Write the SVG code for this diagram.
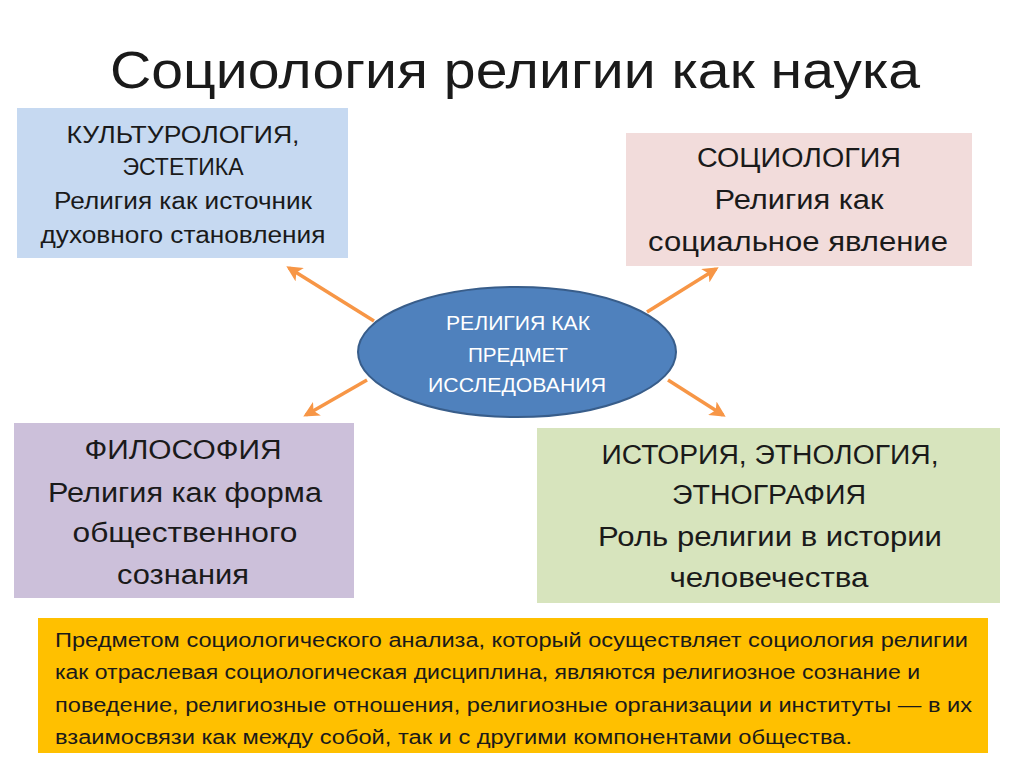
<svg xmlns="http://www.w3.org/2000/svg" width="1024" height="767" viewBox="0 0 1024 767">
<style>
text{font-family:"Liberation Sans","DejaVu Sans",sans-serif;fill:#1a1a1a}
.c{text-anchor:middle}
.t1{font-size:23px}
.t2{font-size:27px}
.e{font-size:20px;fill:#ffffff}
.y{font-size:20px}
.arr{stroke:#f79646;stroke-width:3.5;fill:none;marker-end:url(#ah)}
</style>
<defs>
<marker id="ah" viewBox="0 0 10 10" refX="8" refY="5" markerWidth="4.5" markerHeight="4.5" orient="auto" markerUnits="strokeWidth">
<path d="M0,0 L10,5 L0,10 L2.5,5 Z" fill="#f79646"/>
</marker>
</defs>
<rect width="1024" height="767" fill="#ffffff"/>
<text id="title" class="c" x="515" y="88" font-size="52" textLength="810" lengthAdjust="spacingAndGlyphs">Социология религии как наука</text>

<g id="connectors">
<line class="arr" x1="374" y1="321" x2="289" y2="268"/>
<line class="arr" x1="367" y1="380" x2="306" y2="415"/>
<line class="arr" x1="647" y1="312" x2="716" y2="269"/>
<line class="arr" x1="668" y1="380" x2="723" y2="415"/>
</g>

<g id="n-culture">
<rect x="17" y="108" width="331" height="150" fill="#c6d9f1"/>
<text class="c t1" x="183" y="143" textLength="233" lengthAdjust="spacingAndGlyphs">КУЛЬТУРОЛОГИЯ,</text>
<text class="c t1" x="183" y="175" textLength="121" lengthAdjust="spacingAndGlyphs">ЭСТЕТИКА</text>
<text class="c t1" x="183" y="209" textLength="258" lengthAdjust="spacingAndGlyphs">Религия как источник</text>
<text class="c t1" x="183" y="243" textLength="285" lengthAdjust="spacingAndGlyphs">духовного становления</text>
</g>

<g id="n-sociology">
<rect x="626" y="133" width="346" height="133" fill="#f2dcdb"/>
<text class="c t2" x="799" y="167" textLength="204" lengthAdjust="spacingAndGlyphs">СОЦИОЛОГИЯ</text>
<text class="c t2" x="799" y="209" textLength="169" lengthAdjust="spacingAndGlyphs">Религия как</text>
<text class="c t2" x="798" y="251" textLength="300" lengthAdjust="spacingAndGlyphs">социальное явление</text>
</g>

<g id="n-center">
<ellipse cx="517" cy="352" rx="159" ry="65" fill="#4f81bd" stroke="#385d8a" stroke-width="2"/>
<text class="c e" x="518" y="330" textLength="144" lengthAdjust="spacingAndGlyphs">РЕЛИГИЯ КАК</text>
<text class="c e" x="518" y="362" textLength="100" lengthAdjust="spacingAndGlyphs">ПРЕДМЕТ</text>
<text class="c e" x="517" y="392" textLength="178" lengthAdjust="spacingAndGlyphs">ИССЛЕДОВАНИЯ</text>
</g>

<g id="n-philosophy">
<rect x="14" y="423" width="340" height="175" fill="#ccc0da"/>
<text class="c t2" x="183" y="459" textLength="197" lengthAdjust="spacingAndGlyphs">ФИЛОСОФИЯ</text>
<text class="c t2" x="185" y="502" textLength="274" lengthAdjust="spacingAndGlyphs">Религия как форма</text>
<text class="c t2" x="185" y="542" textLength="225" lengthAdjust="spacingAndGlyphs">общественного</text>
<text class="c t2" x="183" y="584" textLength="132" lengthAdjust="spacingAndGlyphs">сознания</text>
</g>

<g id="n-history">
<rect x="537" y="428" width="463" height="175" fill="#d7e4bd"/>
<text class="c t2" x="770" y="464" textLength="337" lengthAdjust="spacingAndGlyphs">ИСТОРИЯ, ЭТНОЛОГИЯ,</text>
<text class="c t2" x="769" y="504" textLength="194" lengthAdjust="spacingAndGlyphs">ЭТНОГРАФИЯ</text>
<text class="c t2" x="770" y="546" textLength="344" lengthAdjust="spacingAndGlyphs">Роль религии в истории</text>
<text class="c t2" x="769" y="587" textLength="199" lengthAdjust="spacingAndGlyphs">человечества</text>
</g>

<g id="n-note">
<rect x="38" y="618" width="950" height="135" fill="#ffc000"/>
<text class="y" x="55" y="647" textLength="913" lengthAdjust="spacingAndGlyphs">Предметом социологического анализа, который осуществляет социология религии</text>
<text class="y" x="55" y="679" textLength="865" lengthAdjust="spacingAndGlyphs">как отраслевая социологическая дисциплина, являются религиозное сознание и</text>
<text class="y" x="55" y="712" textLength="917" lengthAdjust="spacingAndGlyphs">поведение, религиозные отношения, религиозные организации и институты — в их</text>
<text class="y" x="55" y="744" textLength="797" lengthAdjust="spacingAndGlyphs">взаимосвязи как между собой, так и с другими компонентами общества.</text>
</g>
</svg>
